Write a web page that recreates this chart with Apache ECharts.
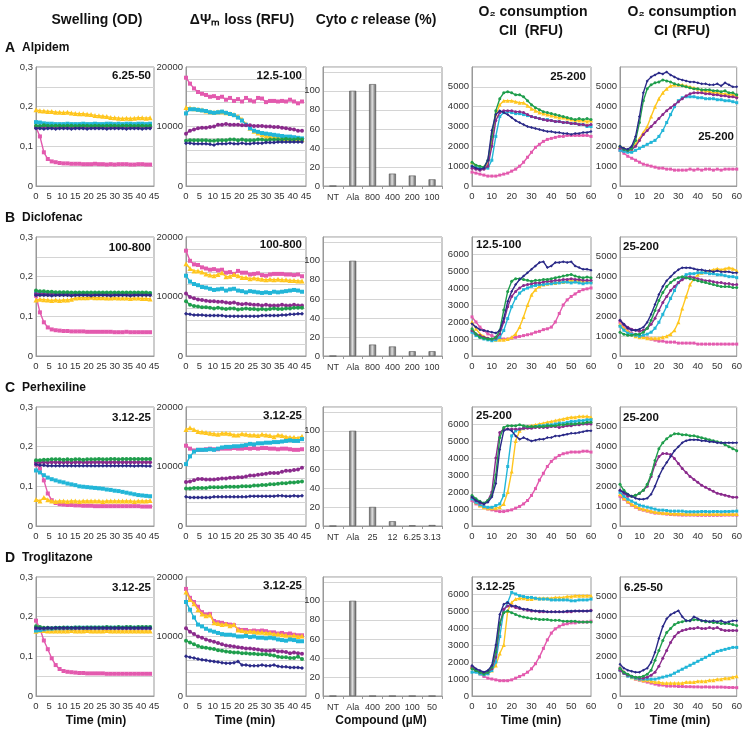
<!DOCTYPE html>
<html><head><meta charset="utf-8">
<script src="https://cdn.jsdelivr.net/npm/echarts@6/dist/echarts.min.js"></script>
<style>html,body{margin:0;padding:0;background:#fff}#c{width:745px;height:738px}</style>
</head><body><div id="c"></div>
<script>
// ---------- time axes ----------
const tSw = [0,1.5,3,4.5,6,7.5,9,10.5,12,13.5,15,16.5,18,19.5,21,22.5,24,25.5,27,28.5,30,31.5,33,34.5,36,37.5,39,40.5,42,43.5];
const tO2 = [0,2,4,6,8,10,12,14,16,18,20,22,24,26,28,30,32,34,36,38,40,42,44,46,48,50,52,54,56,58,60];

// ---------- Swelling (OD) ----------
const swA_pink   = [0.148,0.125,0.085,0.068,0.062,0.060,0.058,0.057,0.057,0.056,0.056,0.056,0.055,0.055,0.055,0.056,0.055,0.055,0.054,0.055,0.054,0.055,0.055,0.055,0.054,0.054,0.055,0.055,0.054,0.054];
const swA_yellow = [0.192,0.190,0.189,0.188,0.188,0.186,0.186,0.185,0.186,0.184,0.183,0.182,0.182,0.181,0.180,0.178,0.177,0.176,0.175,0.173,0.172,0.171,0.170,0.171,0.170,0.171,0.172,0.172,0.171,0.172];
const swA_cyan   = [0.161,0.160,0.158,0.157,0.157,0.156,0.156,0.156,0.157,0.156,0.156,0.156,0.157,0.156,0.156,0.157,0.156,0.156,0.157,0.157,0.156,0.157,0.156,0.157,0.157,0.156,0.157,0.157,0.156,0.157];
const swA_purple = [0.148,0.148,0.149,0.148,0.148,0.148,0.148,0.149,0.148,0.148,0.148,0.148,0.148,0.149,0.148,0.148,0.148,0.148,0.148,0.149,0.148,0.148,0.148,0.148,0.148,0.148,0.148,0.149,0.148,0.148];
const swA_green  = [0.152,0.151,0.153,0.152,0.151,0.152,0.152,0.151,0.152,0.152,0.151,0.152,0.152,0.152,0.151,0.152,0.152,0.151,0.152,0.152,0.152,0.151,0.152,0.152,0.152,0.151,0.152,0.152,0.151,0.152];
const swA_navy   = [0.145,0.145,0.144,0.145,0.145,0.144,0.145,0.145,0.145,0.144,0.145,0.145,0.145,0.144,0.145,0.145,0.145,0.145,0.144,0.145,0.145,0.145,0.145,0.144,0.145,0.145,0.145,0.144,0.145,0.145];

const swB_pink   = [0.152,0.110,0.085,0.072,0.067,0.065,0.064,0.063,0.063,0.062,0.062,0.062,0.062,0.061,0.061,0.061,0.061,0.061,0.061,0.061,0.060,0.060,0.060,0.061,0.060,0.060,0.060,0.060,0.060,0.060];
const swB_yellow = [0.141,0.143,0.142,0.141,0.140,0.141,0.140,0.141,0.141,0.143,0.146,0.147,0.147,0.147,0.148,0.147,0.147,0.147,0.146,0.146,0.147,0.146,0.146,0.146,0.145,0.146,0.146,0.145,0.145,0.144];
const swB_cyan   = [0.158,0.158,0.157,0.157,0.157,0.157,0.157,0.157,0.157,0.157,0.157,0.157,0.157,0.157,0.157,0.157,0.157,0.157,0.157,0.157,0.157,0.157,0.157,0.157,0.157,0.157,0.157,0.157,0.157,0.157];
const swB_purple = [0.156,0.156,0.156,0.155,0.156,0.156,0.155,0.156,0.156,0.156,0.155,0.156,0.156,0.156,0.155,0.156,0.156,0.156,0.155,0.156,0.156,0.155,0.156,0.156,0.156,0.155,0.156,0.156,0.156,0.155];
const swB_green  = [0.165,0.163,0.163,0.162,0.162,0.161,0.161,0.161,0.161,0.160,0.160,0.160,0.160,0.160,0.160,0.160,0.160,0.160,0.160,0.160,0.160,0.160,0.160,0.160,0.160,0.160,0.160,0.160,0.160,0.159];
const swB_navy   = [0.153,0.153,0.153,0.153,0.152,0.153,0.153,0.153,0.153,0.152,0.153,0.153,0.153,0.153,0.152,0.153,0.153,0.153,0.153,0.152,0.153,0.153,0.153,0.153,0.152,0.153,0.153,0.153,0.153,0.153];

const swC_pink   = [0.155,0.145,0.115,0.082,0.065,0.058,0.055,0.054,0.053,0.053,0.052,0.052,0.051,0.051,0.051,0.050,0.050,0.050,0.050,0.050,0.050,0.050,0.050,0.050,0.050,0.050,0.050,0.049,0.049,0.049];
const swC_yellow = [0.067,0.063,0.072,0.066,0.063,0.062,0.063,0.063,0.062,0.063,0.063,0.062,0.063,0.063,0.063,0.063,0.063,0.062,0.063,0.063,0.063,0.063,0.063,0.063,0.063,0.062,0.063,0.063,0.063,0.064];
const swC_cyan   = [0.140,0.135,0.128,0.122,0.118,0.115,0.112,0.110,0.107,0.105,0.103,0.100,0.099,0.098,0.097,0.096,0.095,0.094,0.092,0.091,0.089,0.088,0.086,0.084,0.082,0.080,0.078,0.077,0.076,0.075];
const swC_purple = [0.160,0.160,0.161,0.160,0.161,0.161,0.160,0.161,0.161,0.160,0.161,0.161,0.161,0.160,0.161,0.161,0.161,0.161,0.160,0.161,0.161,0.161,0.161,0.161,0.161,0.161,0.161,0.161,0.161,0.161];
const swC_green  = [0.166,0.166,0.167,0.167,0.168,0.168,0.168,0.167,0.168,0.167,0.168,0.168,0.167,0.168,0.168,0.168,0.169,0.168,0.168,0.169,0.169,0.168,0.169,0.169,0.169,0.169,0.169,0.169,0.169,0.169];
const swC_navy   = [0.155,0.153,0.153,0.152,0.152,0.152,0.152,0.152,0.152,0.152,0.152,0.152,0.152,0.152,0.152,0.152,0.152,0.152,0.152,0.152,0.152,0.152,0.152,0.152,0.152,0.151,0.152,0.152,0.151,0.151];

const swD_pink   = [0.190,0.170,0.140,0.118,0.095,0.078,0.068,0.063,0.061,0.060,0.059,0.058,0.058,0.057,0.057,0.057,0.057,0.057,0.056,0.056,0.056,0.056,0.056,0.056,0.056,0.056,0.056,0.056,0.056,0.056];
const swD_yellow = [0.163,0.166,0.165,0.164,0.164,0.164,0.164,0.164,0.164,0.165,0.164,0.164,0.164,0.165,0.164,0.164,0.164,0.164,0.165,0.164,0.164,0.164,0.164,0.164,0.164,0.164,0.164,0.164,0.164,0.164];
const swD_cyan   = [0.165,0.166,0.168,0.170,0.170,0.171,0.171,0.171,0.172,0.171,0.172,0.172,0.172,0.172,0.172,0.172,0.172,0.172,0.172,0.172,0.172,0.172,0.172,0.172,0.172,0.172,0.172,0.172,0.172,0.172];
const swD_purple = [0.171,0.171,0.170,0.171,0.171,0.171,0.171,0.171,0.171,0.171,0.171,0.171,0.171,0.171,0.171,0.171,0.171,0.171,0.171,0.171,0.171,0.171,0.171,0.171,0.171,0.171,0.171,0.171,0.171,0.171];
const swD_green  = [0.176,0.174,0.172,0.172,0.171,0.172,0.172,0.173,0.172,0.172,0.173,0.173,0.172,0.173,0.173,0.173,0.173,0.173,0.174,0.173,0.173,0.174,0.173,0.174,0.174,0.173,0.174,0.174,0.174,0.174];
const swD_navy   = [0.172,0.171,0.171,0.172,0.171,0.172,0.172,0.172,0.172,0.172,0.172,0.172,0.172,0.172,0.172,0.172,0.172,0.172,0.172,0.172,0.172,0.172,0.172,0.172,0.172,0.172,0.172,0.172,0.172,0.172];

// ---------- ΔΨm loss (RFU) ----------
const dpA_pink   = [18200,17200,16400,15800,15500,15300,15000,15100,14800,15000,14500,14800,14300,14600,14200,14800,14400,14200,14800,14700,14100,14300,14300,14200,14300,14200,14500,14200,13900,14200];
const dpA_yellow = [13200,13100,13000,12900,12800,12600,12500,12400,12500,12500,12300,12200,12000,11700,11200,10400,9700,9200,8900,8600,8400,8300,8200,8100,8000,8000,7900,7900,7800,7800];
const dpA_cyan   = [12200,12900,12900,12800,12700,12600,12400,12300,12400,12500,12300,12100,11900,11500,11000,10300,9700,9300,9100,8900,8800,8700,8600,8500,8400,8300,8300,8200,8100,8000];
const dpA_purple = [8800,9300,9500,9700,9800,9800,9900,10000,10300,10300,10400,10300,10300,10300,10200,10200,10200,10100,10100,10100,10000,10000,9900,9900,9800,9700,9600,9500,9300,9300];
const dpA_green  = [7600,7700,7700,7700,7700,7700,7600,7600,7700,7700,7700,7800,7800,7700,7800,7700,7700,7700,7800,7800,7700,7800,7800,7800,7800,7900,7800,7800,7900,7800];
const dpA_navy   = [7200,7200,7100,7100,7100,7100,7000,6900,7100,7100,7100,7200,7100,7100,7200,7100,7100,7200,7200,7200,7300,7300,7300,7400,7400,7400,7400,7400,7400,7400];

const dpB_pink   = [17700,16000,15400,15300,14900,14700,14500,14600,14400,14500,14000,14100,13800,14300,14000,14000,13700,13800,13900,13600,13500,13700,13800,13800,13800,13700,13700,13600,13700,13400];
const dpB_yellow = [15500,14700,14300,14300,14100,13800,13600,13500,13700,14000,13300,13400,13700,13500,13200,13200,13000,13100,13000,12900,12800,12900,12800,12900,12800,12800,12700,12700,12600,12600];
const dpB_cyan   = [13500,12500,12100,11900,11600,11500,11300,11100,11200,11300,11000,11200,11300,11000,10900,10700,10900,10800,10700,10600,10700,10600,10800,10700,10800,10900,11000,11100,11000,10800];
const dpB_purple = [10500,9900,9700,9500,9400,9300,9200,9200,9100,9100,9000,8900,9000,8800,8700,8800,8700,8600,8600,8500,8600,8500,8500,8500,8600,8500,8500,8600,8500,8500];
const dpB_green  = [9200,8600,8400,8300,8200,8200,8100,8000,8100,8000,7900,8000,8000,7800,7900,8000,7900,7900,7800,7900,7800,7900,8000,7900,7900,8000,8000,8100,8100,8100];
const dpB_navy   = [7100,7000,6900,6900,6900,6800,6800,6800,6800,6800,6700,6700,6700,6700,6700,6700,6700,6700,6700,6800,6800,6800,6800,6800,6900,6900,7000,7000,7100,7100];

const dpC_pink   = [13500,13000,12700,12800,12800,12900,13000,12900,12900,13000,13000,13000,13100,13000,13000,13100,13000,13100,13000,13100,13100,13000,13000,12900,13000,13000,12900,12800,12800,12900];
const dpC_yellow = [16200,16500,16200,15900,15800,15700,15600,15500,15400,15600,15600,15500,15300,15300,15500,15400,15300,15300,15200,15400,15300,15200,15000,15300,15200,15000,14900,14900,14800,15100];
const dpC_cyan   = [10400,11700,12500,12800,12800,12800,12900,12800,13000,13200,13300,13300,13400,13400,13500,13600,13800,13700,13900,13900,14000,14000,14100,14100,14200,14300,14400,14300,14300,14600];
const dpC_purple = [7400,7500,7700,7900,7900,7800,7800,7800,7900,8000,8000,8100,8100,8200,8200,8300,8500,8500,8600,8700,8800,8900,8900,8900,9100,9300,9300,9400,9500,9800];
const dpC_green  = [6300,6300,6400,6400,6400,6400,6500,6500,6500,6500,6600,6600,6600,6600,6700,6700,6700,6800,6800,6900,6900,7000,7000,7100,7200,7200,7300,7300,7400,7500];
const dpC_navy   = [4900,4800,4800,4800,4800,4800,4800,4900,4900,4900,4900,4900,4900,4900,4900,4900,5000,5000,5000,5000,5000,5000,5000,5100,5100,5000,5000,5100,5000,5100];

const dpD_pink   = [18000,16500,15800,15000,14100,13700,13800,12600,12400,12300,12100,12000,11900,11200,11100,11100,10900,11000,10900,11000,10900,10700,10700,10500,10600,10400,10500,10300,10200,10200];
const dpD_yellow = [17500,16200,15500,14500,13800,13500,13600,12300,12200,12000,12100,11800,12000,11100,11000,10800,10900,10800,10700,10700,10600,10600,10400,10400,10300,10200,10000,10200,10000,10100];
const dpD_cyan   = [15800,14500,13200,12000,11700,11300,11000,10800,10600,10400,10300,10300,10200,10000,10000,10100,9900,10000,9800,9800,9700,9800,9700,9500,9400,9300,9500,9400,9200,9200];
const dpD_purple = [11400,10800,10400,10000,9800,9500,9300,9100,8900,8700,8500,8400,8300,8200,8100,8000,8000,7900,7800,7700,7600,7600,7700,7500,7500,7400,7200,7300,7200,7100];
const dpD_green  = [9300,9000,8700,8400,8200,8100,8000,7900,7700,7600,7500,7400,7300,7300,7200,7200,7100,7100,7000,7000,7000,6900,6800,6600,6500,6500,6400,6400,6600,6200];
const dpD_navy   = [6700,6500,6400,6200,6100,6000,5900,5800,5700,5600,5500,5500,5600,5800,5200,5200,5100,5100,5100,5200,5100,5100,5200,5000,4900,4900,4800,4800,4800,4700];

// ---------- Cyto c release (%) ----------
const cytoCatsA = ['NT','Ala','800','400','200','100'];
const cytoValsA = [0,100,107,13,11,7];
const cytoCatsB = ['NT','Ala','800','400','200','100'];
const cytoValsB = [0,100,12,10,5,5];
const cytoCatsC = ['NT','Ala','25','12','6.25','3.13'];
const cytoValsC = [0,100,20,5,0.5,1];
const cytoCatsD = ['NT','Ala','400','200','100','50'];
const cytoValsD = [0,100,0,0,0,0];

// ---------- O2 consumption CII (RFU) ----------
const c2A_pink   = [700,650,600,550,500,500,500,550,600,650,750,850,1000,1200,1450,1700,1950,2100,2250,2350,2400,2450,2500,2500,2550,2550,2550,2550,2550,2550,2500];
const c2A_yellow = [1200,1000,950,950,1100,2200,3600,4100,4300,4300,4300,4250,4200,4200,4050,3900,3800,3700,3650,3600,3550,3500,3450,3450,3400,3350,3300,3300,3300,3250,3300];
const c2A_cyan   = [1000,950,900,900,900,1300,2500,3500,3700,3750,3700,3650,3650,3600,3550,3500,3450,3400,3350,3350,3300,3250,3250,3200,3200,3150,3150,3100,3100,3000,3000];
const c2A_purple = [900,850,800,850,1000,2000,3300,3700,3800,3800,3800,3750,3750,3700,3600,3500,3450,3400,3350,3300,3300,3250,3250,3200,3200,3150,3150,3100,3100,3050,3100];
const c2A_green  = [1200,1050,1000,950,1300,2500,3800,4400,4700,4750,4700,4600,4600,4500,4300,4100,3950,3850,3750,3700,3650,3600,3550,3500,3450,3400,3350,3400,3350,3400,3350];
const c2A_navy   = [1000,900,850,900,1300,2800,3600,3800,3700,3600,3450,3300,3200,3100,3000,2950,2900,2850,2800,2750,2750,2700,2700,2650,2650,2600,2650,2650,2700,2700,2750];

const c2B_pink   = [2300,2000,1700,1500,1300,1200,1100,1050,1000,1000,1050,1100,1150,1200,1250,1300,1400,1450,1550,1600,1700,2000,2500,3000,3300,3500,3650,3800,3900,3950,4000];
const c2B_yellow = [2000,1600,1300,1150,1050,1000,950,950,950,1000,1100,1300,1700,2300,3000,3600,3900,4100,4200,4250,4300,4300,4350,4350,4400,4450,4400,4450,4400,4450,4400];
const c2B_cyan   = [1400,1200,1100,1000,950,900,950,1100,1500,2200,2900,3400,3700,3900,4000,4100,4150,4200,4200,4250,4250,4300,4300,4350,4350,4300,4350,4300,4250,4300,4300];
const c2B_purple = [1500,1300,1200,1100,1050,1000,1050,1300,2000,2900,3500,3800,4000,4150,4200,4250,4300,4300,4350,4400,4400,4450,4450,4500,4500,4550,4500,4500,4450,4450,4450];
const c2B_green  = [1600,1300,1100,1050,1000,1000,1100,1500,2700,3800,4400,4550,4550,4500,4450,4400,4450,4450,4500,4500,4550,4600,4650,4700,4750,4800,4700,4650,4600,4650,4600];
const c2B_navy   = [1900,1700,1550,1500,1450,1400,1350,1500,2200,3200,3800,4200,4500,4700,4900,5100,5300,5500,5550,5200,5300,5500,5500,5550,5500,5550,5300,5200,5100,5100,5050];

const c2C_pink   = [1500,1300,1200,1100,1000,950,900,850,850,900,950,1050,1150,1300,1500,1800,2200,2700,3100,3500,3800,4000,4150,4250,4300,4350,4350,4350,4400,4400,4350];
const c2C_yellow = [1700,1400,1200,1100,1050,1050,1050,1100,1300,2000,3200,5000,5600,5750,5850,5900,5950,6000,6050,6100,6150,6200,6250,6300,6350,6400,6400,6450,6450,6450,6400];
const c2C_cyan   = [1600,1400,1250,1150,1100,1100,1200,1300,1800,3500,5300,5600,5700,5750,5800,5800,5850,5900,5900,5950,5950,6000,6050,6050,6100,6150,6150,6200,6200,6250,6250];
const c2C_purple = [1700,1500,1350,1300,1500,2000,4000,5500,5700,5700,5700,5700,5700,5750,5750,5750,5800,5800,5800,5800,5850,5850,5800,5850,5900,5900,5950,5950,6000,6000,6000];
const c2C_green  = [1800,1600,1450,1350,1500,1800,3000,5200,5800,5900,5900,5900,5950,5900,5850,5850,5850,5850,5850,5900,5900,5900,5950,5950,6000,6000,6000,6050,6050,6100,6100];
const c2C_navy   = [1700,1500,1400,1300,1400,1700,2500,4500,5600,5700,5600,5300,5100,5200,5100,5000,5050,5100,5100,5200,5200,5300,5300,5350,5400,5450,5450,5500,5550,5600,5600];

const c2D_pink   = [1700,1500,1300,1150,1050,1000,950,900,900,900,950,1050,1150,1250,1400,1600,1900,2300,2800,3300,3700,3950,4100,4200,4250,4300,4300,4350,4350,4350,4400];
const c2D_yellow = [1700,1500,1350,1300,1350,1500,1800,2500,3000,5000,5500,5700,5750,5750,5700,5700,5750,5750,5750,5750,5750,5800,5800,5800,5850,5850,5900,5900,5900,5900,5900];
const c2D_cyan   = [1400,1400,1300,1250,1300,1500,2000,3500,5000,5500,6100,6000,5900,5850,5800,5800,5750,5700,5700,5700,5650,5650,5650,5650,5650,5600,5600,5650,5650,5650,5700];
const c2D_purple = [1700,1500,1400,1350,1400,1600,2300,4200,5100,5300,5300,5200,5150,5100,5050,5000,5000,4950,4950,4950,4950,4950,4950,4950,4950,4950,5000,5000,5000,5000,5050];
const c2D_green  = [1600,1500,1400,1300,1400,1700,2600,4300,4900,5000,4900,4800,4700,4650,4600,4550,4550,4500,4500,4500,4450,4450,4450,4400,4400,4400,4400,4350,4350,4350,4350];
const c2D_navy   = [1800,1600,1500,1400,1500,1800,3000,4800,5400,5500,5300,5300,5200,5100,5100,5050,5000,5000,5000,4950,4950,4950,4950,4950,5000,5000,5000,5000,5000,5000,5000];

// ---------- O2 consumption CI (RFU) ----------
const c1A_pink   = [1800,1650,1500,1400,1300,1200,1100,1050,1000,950,900,900,850,850,800,800,800,800,850,800,850,800,850,850,800,850,800,850,850,850,850];
const c1A_yellow = [2000,1900,1800,1850,2100,2400,2700,3000,3500,4000,4400,4700,4900,5050,5100,5100,5100,5050,5000,4950,4900,4850,4800,4750,4700,4700,4650,4650,4600,4600,4550];
const c1A_cyan   = [1800,1750,1700,1700,1800,1900,2000,2100,2200,2300,2500,2800,3200,3600,4000,4300,4450,4500,4500,4500,4450,4450,4400,4400,4400,4350,4350,4300,4300,4250,4200];
const c1A_purple = [1900,1850,1800,1850,2000,2300,2600,2800,3000,3200,3400,3600,3800,3950,4100,4250,4400,4550,4650,4700,4700,4700,4650,4650,4600,4600,4550,4550,4500,4500,4450];
const c1A_green  = [2000,1850,1800,1900,2300,3200,4300,4900,5100,5200,5250,5350,5300,5250,5150,5100,5050,5000,4950,4900,4900,4850,4850,4850,4800,4800,4750,4800,4700,4700,4600];
const c1A_navy   = [2000,1900,1850,2000,2500,3500,4700,5300,5500,5600,5700,5650,5750,5600,5500,5400,5350,5300,5250,5250,5200,5150,5150,5100,5100,5150,5050,5200,5100,5000,5000];

const c1B_pink   = [1700,1500,1300,1150,1050,1000,950,900,850,800,750,750,700,700,700,650,650,650,650,650,600,600,600,600,600,600,600,600,600,600,600];
const c1B_yellow = [1600,1400,1250,1100,1000,950,950,900,900,900,900,950,1000,1100,1300,1700,2400,3000,3600,3900,4100,4200,4250,4300,4350,4400,4350,4400,4450,4400,4300];
const c1B_cyan   = [1500,1300,1150,1100,1050,1000,1050,1100,1200,1400,1700,2100,2500,2900,3300,3700,3950,4100,4150,4150,4200,4200,4200,4150,4150,4100,4100,4050,4000,4000,3950];
const c1B_purple = [1800,1600,1450,1350,1300,1250,1300,1400,1600,1900,2300,2700,3000,3300,3500,3700,3850,3950,4000,3950,3900,3850,3800,3800,3750,3700,3700,3650,3650,3600,3600];
const c1B_green  = [1200,1100,1050,1050,1100,1100,1200,1400,1800,2300,2800,3200,3500,3700,3850,3950,4000,3950,3900,3850,3800,3750,3700,3650,3600,3550,3500,3500,3500,3450,3450];
const c1B_navy   = [1800,1600,1400,1300,1300,1350,1450,1700,2100,2600,3100,3500,3800,4000,4200,4350,4450,4450,4450,4400,4350,4350,4300,4300,4250,4300,4250,4250,4250,4200,4200];

const c1C_pink   = [1500,1350,1200,1050,950,850,800,750,700,650,650,620,600,580,570,560,550,550,550,550,540,540,540,540,540,540,540,550,550,550,550];
const c1C_yellow = [1600,1400,1250,1100,1000,900,850,800,750,700,680,650,650,630,620,620,620,600,600,600,600,600,600,600,600,600,600,600,600,600,600];
const c1C_cyan   = [1700,1500,1350,1250,1150,1050,1000,950,900,850,800,800,780,750,750,750,750,720,720,720,720,730,730,720,730,730,720,730,730,740,750];
const c1C_purple = [1800,1650,1500,1500,1550,1650,1800,2000,2500,3100,3500,3650,3650,3600,3400,3150,2900,2700,2500,2350,2200,2050,1950,1850,1750,1650,1600,1550,1500,1450,1450];
const c1C_green  = [2100,1800,1600,1500,1550,1650,1800,2100,2600,3300,3900,4200,4400,4550,4650,4650,4600,4600,4550,4550,4500,4450,4400,4350,4300,4250,4200,4100,4000,3900,3800];
const c1C_navy   = [1800,1700,1600,1500,1400,1350,1350,1400,1600,2000,2500,2900,3200,3500,3800,4000,4200,4300,4350,4350,4350,4300,4300,4250,4250,4200,4200,4200,4200,4200,4200];

const c1D_pink   = [1400,1200,1050,950,850,800,750,700,650,600,550,550,500,500,500,480,480,470,470,460,460,450,460,450,450,450,450,440,430,430,420];
const c1D_yellow = [1400,1200,1050,950,900,850,800,800,750,700,700,650,650,650,650,650,650,700,700,700,750,750,750,800,800,850,850,900,900,950,1000];
const c1D_cyan   = [1300,1150,1000,950,900,850,850,850,850,850,900,950,1000,1050,1150,1250,1350,1450,1550,1650,1750,1850,1950,2050,2150,2250,2300,2350,2400,2450,2450];
const c1D_purple = [1300,1150,1050,1000,950,900,900,950,1050,1200,1500,1900,2300,2700,3000,3200,3300,3350,3400,3400,3450,3400,3400,3450,3400,3450,3350,3300,3300,3300,3300];
const c1D_green  = [1400,1200,1100,1000,950,950,1000,1100,1300,1800,2300,2800,3200,3400,3600,3700,3750,3800,3800,3850,3850,3800,3750,3750,3700,3700,3650,3650,3650,3600,3550];
const c1D_navy   = [1600,1400,1300,1250,1200,1200,1300,1400,1700,2200,2900,3500,3900,4100,4200,4300,4000,3800,3800,4000,3900,3800,3800,3750,3800,3750,3800,3700,3750,3800,3800];

// ---------- labels ----------
const headers = ['Swelling (OD)','ΔΨm loss (RFU)','Cyto c release (%)','O₂ consumption CII (RFU)','O₂ consumption CI (RFU)'];
const rowLetters = ['A','B','C','D'];
const compounds = ['Alpidem','Diclofenac','Perhexiline','Troglitazone'];
const bottomLabels = ['Time (min)','Time (min)','Compound (µM)','Time (min)','Time (min)'];
const rangeLabels = [
  ['6.25-50','12.5-100','25-200','25-200'],
  ['100-800','100-800','12.5-100','25-200'],
  ['3.12-25','3.12-25','25-200','25-200'],
  ['3.12-25','3.12-25','3.12-25','6.25-50']
];

// ---------- styling ----------
const COLORS = {pink:'#E35AAE', yellow:'#FFC61E', cyan:'#22B6D8', purple:'#8A2A8C', green:'#1F9E4C', navy:'#2B2A88'};
const SYMBOLS = {pink:'rect', yellow:'triangle', cyan:'rect', purple:'circle', green:'circle', navy:'diamond'};
const ORDER = ['pink','yellow','cyan','purple','green','navy'];
const FONT = '"Liberation Sans", Arial, Helvetica, sans-serif';

const colL = [36,186,323,472,620];
const colW = [118,120,119,119,119];
const rowT = [67,237,407,577];
const H = 119;

const panelData = {
  sw: [[swA_pink,swA_yellow,swA_cyan,swA_purple,swA_green,swA_navy],[swB_pink,swB_yellow,swB_cyan,swB_purple,swB_green,swB_navy],[swC_pink,swC_yellow,swC_cyan,swC_purple,swC_green,swC_navy],[swD_pink,swD_yellow,swD_cyan,swD_purple,swD_green,swD_navy]],
  dp: [[dpA_pink,dpA_yellow,dpA_cyan,dpA_purple,dpA_green,dpA_navy],[dpB_pink,dpB_yellow,dpB_cyan,dpB_purple,dpB_green,dpB_navy],[dpC_pink,dpC_yellow,dpC_cyan,dpC_purple,dpC_green,dpC_navy],[dpD_pink,dpD_yellow,dpD_cyan,dpD_purple,dpD_green,dpD_navy]],
  c2: [[c2A_pink,c2A_yellow,c2A_cyan,c2A_purple,c2A_green,c2A_navy],[c2B_pink,c2B_yellow,c2B_cyan,c2B_purple,c2B_green,c2B_navy],[c2C_pink,c2C_yellow,c2C_cyan,c2C_purple,c2C_green,c2C_navy],[c2D_pink,c2D_yellow,c2D_cyan,c2D_purple,c2D_green,c2D_navy]],
  c1: [[c1A_pink,c1A_yellow,c1A_cyan,c1A_purple,c1A_green,c1A_navy],[c1B_pink,c1B_yellow,c1B_cyan,c1B_purple,c1B_green,c1B_navy],[c1C_pink,c1C_yellow,c1C_cyan,c1C_purple,c1C_green,c1C_navy],[c1D_pink,c1D_yellow,c1D_cyan,c1D_purple,c1D_green,c1D_navy]]
};
const cytoCats = [cytoCatsA,cytoCatsB,cytoCatsC,cytoCatsD];
const cytoVals = [cytoValsA,cytoValsB,cytoValsC,cytoValsD];

const grids = [], xAxes = [], yAxes = [], series = [], graphics = [];
const lblStyle = {fontSize:9.5, color:'#333', fontFamily:FONT};
const splitStyle = {show:true, lineStyle:{color:'#d4d4d4', width:1}};
const axisLine = {show:true, lineStyle:{color:'#999'}};

function addGrid(r,c){
  grids.push({left:colL[c], top:rowT[r], width:colW[c], height:H, show:true, borderColor:'#999', borderWidth:1, backgroundColor:'#fff'});
  return grids.length-1;
}
function valX(g, max, interval){
  xAxes.push({type:'value', gridIndex:g, min:0, max:max, interval:interval, splitLine:{show:false}, axisLine:axisLine, axisTick:{show:false}, axisLabel:Object.assign({margin:5}, lblStyle)});
}
function valY(g, max, interval, fmt){
  yAxes.push({type:'value', gridIndex:g, min:0, max:max, interval:interval, splitLine:splitStyle, axisLine:axisLine, axisTick:{show:false}, axisLabel:Object.assign({margin:3, formatter:fmt}, lblStyle)});
}
function addLines(g, t, arrs, size){
  ORDER.forEach((name,i)=>{
    series.push({type:'line', xAxisIndex:g, yAxisIndex:g, data:t.map((x,k)=>[x, arrs[i][k]]),
      symbol:SYMBOLS[name], symbolSize: name==='yellow'? size+1 : size, showSymbol:true, showAllSymbol:true,
      lineStyle:{width:1.4, color:COLORS[name]}, itemStyle:{color:COLORS[name]}, animation:false, z:2+i});
  });
}

for (let r=0;r<4;r++){
  // swelling
  let g = addGrid(r,0);
  valX(g,45,5);
  valY(g,0.3,0.05, v => { const k=Math.round(v*100); return k%10===0 ? (k===0?'0':String(k/100).replace('.',',')) : ''; });
  addLines(g, tSw, panelData.sw[r], 4);
  // dpsi
  g = addGrid(r,1);
  valX(g,45,5);
  valY(g,20000,2000, v => (v%10000===0 ? String(v) : ''));
  addLines(g, tSw, panelData.dp[r], 4);
  // cyto c
  g = addGrid(r,2);
  xAxes.push({type:'category', gridIndex:g, data:cytoCats[r], axisLine:axisLine, axisTick:{show:true, length:3, lineStyle:{color:'#999'}}, axisLabel:Object.assign({margin:7, interval:0}, lblStyle, {fontSize:9}), splitLine:{show:false}});
  valY(g,125,20, v => (v<=100 ? String(v) : ''));
  series.push({type:'bar', xAxisIndex:g, yAxisIndex:g, data:cytoVals[r], barWidth:7, animation:false,
    itemStyle:{borderColor:'#555', borderWidth:0.6, color:{type:'linear',x:0,y:0,x2:1,y2:0,colorStops:[{offset:0,color:'#5a5a5a'},{offset:0.45,color:'#e0e0e0'},{offset:1,color:'#5a5a5a'}]}}});
  // O2 CII
  g = addGrid(r,3);
  valX(g,60,10);
  const m2 = r===0 ? 6000 : 7000;
  valY(g,m2,1000, v => (v<m2 ? String(v) : ''));
  addLines(g, tO2, panelData.c2[r], 3);
  // O2 CI
  g = addGrid(r,4);
  valX(g,60,10);
  valY(g,6000,1000, v => (v<6000 ? String(v) : ''));
  addLines(g, tO2, panelData.c1[r], 3);
}

// headers
const hdrY = 20;
function txt(x,y,text,size,align,extra){
  graphics.push({type:'text', x:x, y:y, z:100, style:Object.assign({text:text, fontSize:size, fontWeight:'bold', fontFamily:FONT, fill:'#111', align:align||'center', verticalAlign:'middle'}, extra||{})});
}
txt(97,hdrY,headers[0],14);
txt(242,hdrY,'ΔΨₘ loss (RFU)',14);
graphics.push({type:'text', x:376, y:hdrY, z:100, style:{text:'{a|Cyto }{i|c}{a| release (%)}', align:'center', verticalAlign:'middle', rich:{a:{fontSize:14,fontWeight:'bold',fontFamily:FONT,fill:'#111'}, i:{fontSize:14,fontWeight:'bold',fontStyle:'italic',fontFamily:FONT,fill:'#111'}}}});
txt(533,12,'O₂ consumption',14);
txt(531,31,'CII  (RFU)',14);
txt(682,12,'O₂ consumption',14);
txt(682,31,'CI (RFU)',14);

for (let r=0;r<4;r++){
  const y = 48 + r*170;
  txt(5,y,rowLetters[r],14,'left');
  txt(22,y,compounds[r],12,'left');
}
// range labels: [x, y, align]
const rlPos = [
  [[151,76,'right'],[302,76,'right'],[586,77,'right'],[734,137,'right']],
  [[151,248,'right'],[302,245,'right'],[476,245,'left'],[623,247,'left']],
  [[151,418,'right'],[302,416,'right'],[476,416,'left'],[623,418,'left']],
  [[151,588,'right'],[302,586,'right'],[476,587,'left'],[624,588,'left']]
];
for (let r=0;r<4;r++) for (let k=0;k<4;k++){
  const p = rlPos[r][k];
  txt(p[0],p[1],rangeLabels[r][k],11.5,p[2]);
}
const botX = [96,245,381,531,680];
bottomLabels.forEach((s,i)=>txt(botX[i],721,s,12));

const chart = echarts.init(document.getElementById('c'), null, {renderer:'canvas'});
chart.setOption({animation:false, backgroundColor:'#fff', grid:grids, xAxis:xAxes, yAxis:yAxes, series:series, graphic:graphics});
</script>
</body></html>
